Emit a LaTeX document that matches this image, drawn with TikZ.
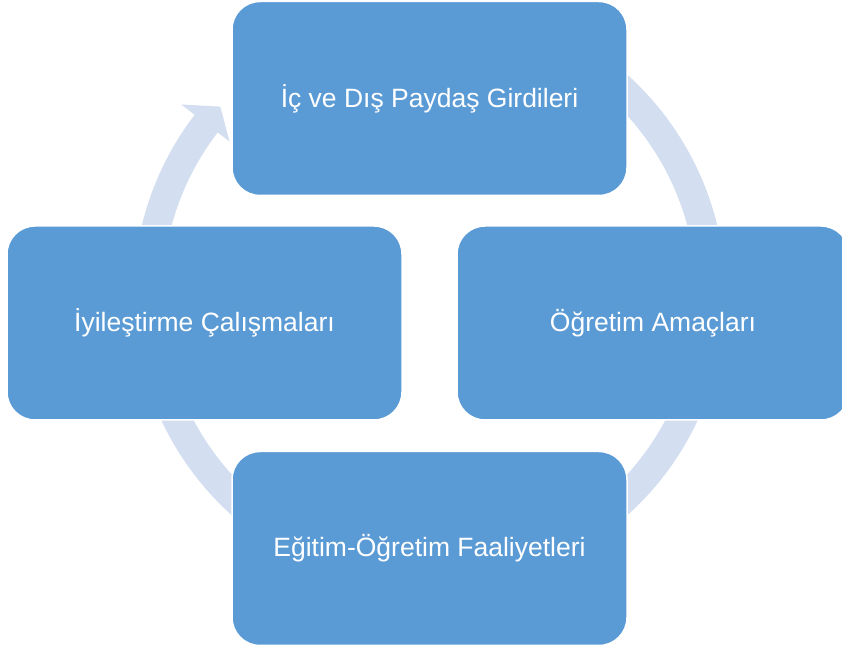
\documentclass[tikz,border=0pt]{standalone}
\usepackage{fontspec}
\setmainfont{Liberation Sans}
\definecolor{boxblue}{HTML}{5B9BD5}
\definecolor{ringblue}{HTML}{D3DEF0}
\begin{document}
\begin{tikzpicture}[x=1pt,y=1pt,
  cyclebox/.style={rectangle, rounded corners=28pt, fill=boxblue, draw=white, line width=1.5pt,
    minimum width=395pt, minimum height=194pt, inner sep=0pt, text=white,
    font=\fontsize{26.5}{30}\selectfont}]
\useasboundingbox (0,0) rectangle (842,652);
\coordinate (C) at (429.5,357);
% circular arrow ring
\fill[ringblue] ([shift={(C)}]75:296) arc[start angle=75, end angle=-217.5, radius=296pt]
  -- ([shift={(C)}]142.5:313) -- ([shift={(C)}]138:281.5) -- ([shift={(C)}]142.5:252)
  -- ([shift={(C)}]142.5:267) arc[start angle=-217.5, end angle=75, radius=267pt] -- cycle;
% boxes
\node[cyclebox] (top) at (429.5,553.5) {İç ve Dış Paydaş Girdileri};
\node[cyclebox, minimum width=392pt] (right) at (653,329) {Öğretim Amaçları};
\node[cyclebox] (bottom) at (429.5,103.5) {Eğitim-Öğretim Faaliyetleri};
\node[cyclebox] (left) at (204.5,329) {İyileştirme Çalışmaları};
\end{tikzpicture}
\end{document}
